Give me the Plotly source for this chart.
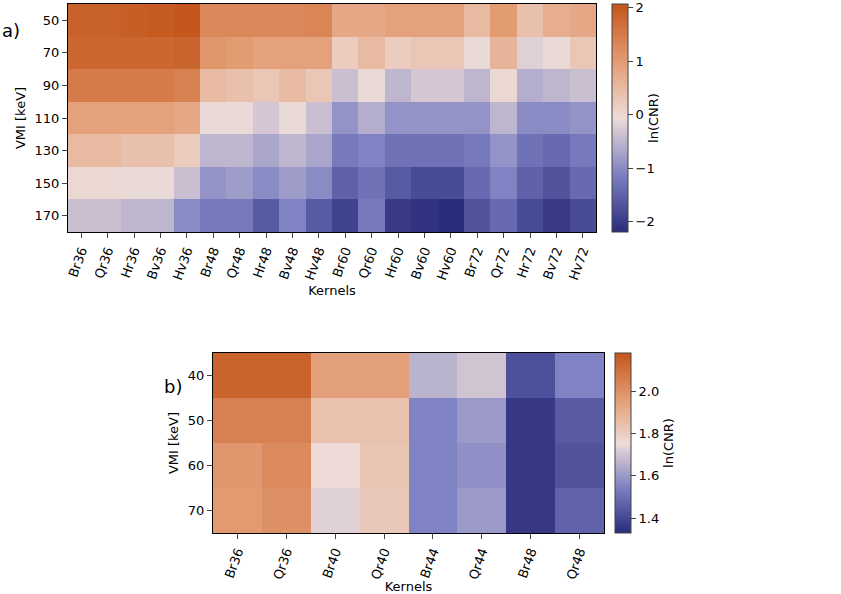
import plotly.graph_objects as go

kernels_a = ["Br36", "Qr36", "Hr36", "Bv36", "Hv36", "Br48", "Qr48", "Hr48", "Bv48", "Hv48",
             "Br60", "Qr60", "Hr60", "Bv60", "Hv60", "Br72", "Qr72", "Hr72", "Bv72", "Hv72"]
vmi_a = ["50", "70", "90", "110", "130", "150", "170"]
cnr_a = [
    [1.9, 1.9, 1.95, 2.0, 2.05, 1.3, 1.3, 1.3, 1.3, 1.35, 0.8, 0.8, 0.9, 0.9, 0.9, 0.5, 1.0, 0.4, 0.7, 0.8],
    [1.8, 1.8, 1.8, 1.8, 1.85, 1.1, 1.0, 0.9, 0.9, 0.9, 0.2, 0.5, 0.2, 0.3, 0.3, -0.1, 0.6, -0.2, -0.1, 0.3],
    [1.5, 1.5, 1.5, 1.5, 1.4, 0.5, 0.4, 0.3, 0.5, 0.3, -0.4, -0.1, -0.5, -0.3, -0.3, -0.5, 0.0, -0.6, -0.5, -0.4],
    [0.9, 0.9, 0.9, 0.9, 0.8, -0.1, -0.1, -0.3, -0.1, -0.4, -0.9, -0.6, -0.9, -0.9, -0.9, -0.9, -0.5, -1.0, -1.0, -0.9],
    [0.5, 0.5, 0.4, 0.4, 0.2, -0.5, -0.5, -0.7, -0.5, -0.7, -1.2, -1.1, -1.3, -1.3, -1.3, -1.2, -0.9, -1.3, -1.4, -1.2],
    [0.0, 0.0, -0.1, -0.1, -0.4, -0.9, -0.8, -1.0, -0.8, -1.0, -1.5, -1.3, -1.6, -1.8, -1.8, -1.4, -1.1, -1.5, -1.7, -1.4],
    [-0.4, -0.4, -0.5, -0.5, -1.0, -1.2, -1.2, -1.6, -1.1, -1.6, -1.9, -1.2, -2.0, -2.1, -2.2, -1.7, -1.4, -1.8, -2.0, -1.8],
]

kernels_b = ["Br36", "Qr36", "Br40", "Qr40", "Br44", "Qr44", "Br48", "Qr48"]
vmi_b = ["40", "50", "60", "70"]
cnr_b = [
    [2.14, 2.14, 1.95, 1.95, 1.66, 1.70, 1.42, 1.55],
    [2.05, 2.05, 1.84, 1.84, 1.55, 1.60, 1.36, 1.45],
    [1.98, 2.02, 1.76, 1.83, 1.55, 1.58, 1.36, 1.43],
    [1.97, 2.00, 1.73, 1.82, 1.55, 1.60, 1.36, 1.47],
]

CMAP = [[0, "#2a2c7c"], [0.25, "#7c80c2"], [0.5, "#eddcd8"], [0.75, "#e39b72"], [1, "#c4561c"]]
FONT = "DejaVu Sans"

fig = go.Figure()
fig.add_trace(go.Heatmap(
    z=cnr_a, x=kernels_a, y=vmi_a, colorscale=CMAP, zmin=-2.19, zmax=2.07,
    xaxis="x", yaxis="y",
    colorbar=dict(x=612 / 841, xanchor="left", xpad=0, ypad=0, y=1 - 4 / 594, yanchor="top",
                  len=228 / 594, lenmode="fraction",
                  thickness=16, outlinewidth=1, tickvals=[-2, -1, 0, 1, 2], ticks="outside",
                  tickfont=dict(size=13),
                  title=dict(text="ln(CNR)", side="right", font=dict(size=13))),
))
fig.add_trace(go.Heatmap(
    z=cnr_b, x=kernels_b, y=vmi_b, colorscale=CMAP, zmin=1.33, zmax=2.18,
    xaxis="x2", yaxis="y2",
    colorbar=dict(x=615 / 841, xanchor="left", xpad=0, ypad=0, y=1 - 353 / 594, yanchor="top",
                  len=180 / 594, lenmode="fraction",
                  thickness=16, outlinewidth=1, tickvals=[1.4, 1.6, 1.8, 2.0], tickformat=".1f",
                  ticks="outside", tickfont=dict(size=13),
                  title=dict(text="ln(CNR)", side="right", font=dict(size=13))),
))

ax = dict(showline=True, mirror=True, linecolor="black", ticks="outside", tickangle=-70,
          automargin=False, tickfont=dict(size=13),
          title=dict(text="Kernels", standoff=4, font=dict(size=13)))
ay = dict(showline=True, mirror=True, linecolor="black", ticks="outside", autorange="reversed",
          automargin=False, tickfont=dict(size=13),
          title=dict(text="VMI [keV]", standoff=6, font=dict(size=13)))

fig.update_layout(
    width=841, height=594, margin=dict(l=0, r=0, t=0, b=0),
    paper_bgcolor="white", plot_bgcolor="white",
    font=dict(family=FONT, size=12, color="black"),
    xaxis=dict(ax, domain=[68 / 841, 596 / 841], anchor="y"),
    yaxis=dict(ay, domain=[1 - 232 / 594, 1 - 4 / 594], anchor="x"),
    xaxis2=dict(ax, domain=[213 / 841, 604 / 841], anchor="y2"),
    yaxis2=dict(ay, domain=[1 - 533 / 594, 1 - 353 / 594], anchor="x2"),
    annotations=[
        dict(text="a)", x=0.0, y=1 - 18 / 594, xref="paper", yref="paper", showarrow=False,
             xanchor="left", font=dict(size=18)),
        dict(text="b)", x=162 / 841, y=1 - 386 / 594, xref="paper", yref="paper", showarrow=False,
             xanchor="left", font=dict(size=18)),
    ],
)

fig.write_html("out.html", config={"displayModeBar": False},
               post_script="document.body.style.margin='0';")
